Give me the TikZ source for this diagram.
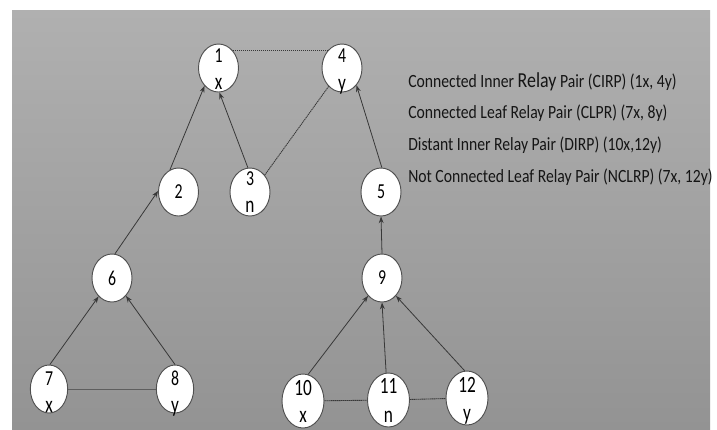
\documentclass[tikz,border=0pt]{standalone}
\usepackage{fontspec}
\usetikzlibrary{shapes.geometric,arrows.meta}
\newfontfamily\cf{Carlito}[FakeStretch=0.84]
\newfontfamily\nf{Carlito}[FakeStretch=0.74]
\newcommand\digf{\nf\fontsize{16}{18}\selectfont}
\newcommand\letf{\nf\fontsize{17.5}{20}\selectfont}
\newcommand\bigdigf{\nf\fontsize{17.5}{20}\selectfont}
\newcommand\legf{\cf\fontsize{14}{16}\selectfont}
\definecolor{bgtop}{HTML}{B0B0B0}
\definecolor{bgbot}{HTML}{939393}
\definecolor{nodeline}{HTML}{505050}
\definecolor{edgecol}{HTML}{383838}
\definecolor{thincol}{HTML}{5E5E5E}
\definecolor{txtcol}{HTML}{151515}
\tikzset{
 relay/.style={ellipse, draw=nodeline, line width=0.7pt, fill=white, inner sep=0pt,
   minimum width=30pt, minimum height=36pt, font=\digf},
 bignode/.style={minimum width=31.5pt, minimum height=40.5pt},
 slimnode/.style={minimum width=28pt, minimum height=36pt},
 link/.style={draw=edgecol, line width=0.6pt, -{Stealth[length=5pt,width=3.6pt]}},
 dots/.style={draw=edgecol, line width=0.65pt, dash pattern=on 1pt off 0.5pt},
 thinline/.style={draw=thincol, line width=0.65pt},
 toplbl/.style={anchor=base, inner sep=0pt, font=\digf},
 bottoplbl/.style={anchor=base, inner sep=0pt, font=\bigdigf},
 botlbl/.style={anchor=base, inner sep=0pt, font=\letf},
 legend/.style={anchor=base west, inner sep=0pt, font=\legf, text=txtcol}
}
\begin{document}
\begin{tikzpicture}[x=0.75pt,y=-0.75pt]
\useasboundingbox (0,0) rectangle (717,429);
\fill[white] (0,0) rectangle (717,429);
\shade[top color=bgtop, bottom color=bgbot] (12,10) rectangle (710,429);

% nodes
\node[relay] (n1) at (218.5,68) {};
\node[toplbl] (n1a) at ([yshift=4.5pt]n1.center) {1};
\node[botlbl] (n1b) at ([yshift=-15.75pt]n1.center) {x};
\node[relay] (n4) at (342,68) {};
\node[toplbl] (n4a) at ([yshift=4.5pt]n4.center) {4};
\node[botlbl] (n4b) at ([yshift=-16.5pt]n4.center) {y};
\node[relay] (n2) at (178.5,192) {2};
\node[relay] (n3) at (250,192) {};
\node[toplbl] (n3a) at ([yshift=5.25pt]n3.center) {3};
\node[botlbl] (n3b) at ([yshift=-15pt]n3.center) {n};
\node[relay] (n5) at (381,192) {5};
\node[relay] (n6) at (112,278) {6};
\node[relay] (n9) at (382,278) {9};
\node[relay,slimnode] (n7) at (49,389) {};
\node[toplbl] (n7a) at ([yshift=3pt]n7.center) {7};
\node[botlbl] (n7b) at ([yshift=-17.25pt]n7.center) {x};
\node[relay,slimnode] (n8) at (175,389) {};
\node[toplbl] (n8a) at ([yshift=3pt]n8.center) {8};
\node[botlbl] (n8b) at ([yshift=-17.25pt]n8.center) {y};
\node[relay,bignode] (n10) at (303,401) {};
\node[bottoplbl] (n10a) at ([yshift=4.5pt]n10.center) {10};
\node[botlbl] (n10b) at ([yshift=-15.75pt]n10.center) {x};
\node[relay,bignode] (n11) at (388.5,400) {};
\node[bottoplbl] (n11a) at ([yshift=5.25pt]n11.center) {11};
\node[botlbl] (n11b) at ([yshift=-16.5pt]n11.center) {n};
\node[relay,bignode] (n12) at (467,398) {};
\node[bottoplbl] (n12a) at ([yshift=4.5pt]n12.center) {12};
\node[botlbl] (n12b) at ([yshift=-16.5pt]n12.center) {y};

% connectors
\draw[link] (n2.111) -- (n1.232);
\draw[link] (n3.95) -- (n1.272);
\draw[link] (n5.88) -- (n4.310);
\draw[dots] (n1.50) -- (n4.130);
\draw[dots] (n3.49) -- (n4.234);
\draw[link] (n6.83) -- (n2.177);
\draw[link] (n9.90) -- (n5.270);
\draw[link] (n7.88) -- (n6.234);
\draw[link] (n8.90) -- (n6.308);
\draw[thinline] (n7) -- (n8);
\draw[link] (n10.79) -- (n9.232);
\draw[link] (n11.95) -- (n9.270);
\draw[link] (n12.95) -- (n9.308);
\draw[dots] (n10) -- (n11);
\draw[dots] (n11) -- (n12);

% legend
\node[legend] (t1) at (408,87) {Connected Inner {\fontsize{16}{18}\selectfont Relay} Pair (CIRP) (1x, 4y)};
\node[legend] (t2) at (408,118.5) {Connected Leaf Relay Pair (CLPR) (7x, 8y)};
\node[legend] (t3) at (408,150) {Distant Inner Relay Pair (DIRP) (10x,12y)};
\node[legend] (t4) at (408,182) {Not Connected Leaf Relay Pair (NCLRP) (7x, 12y)};
\end{tikzpicture}
\end{document}
